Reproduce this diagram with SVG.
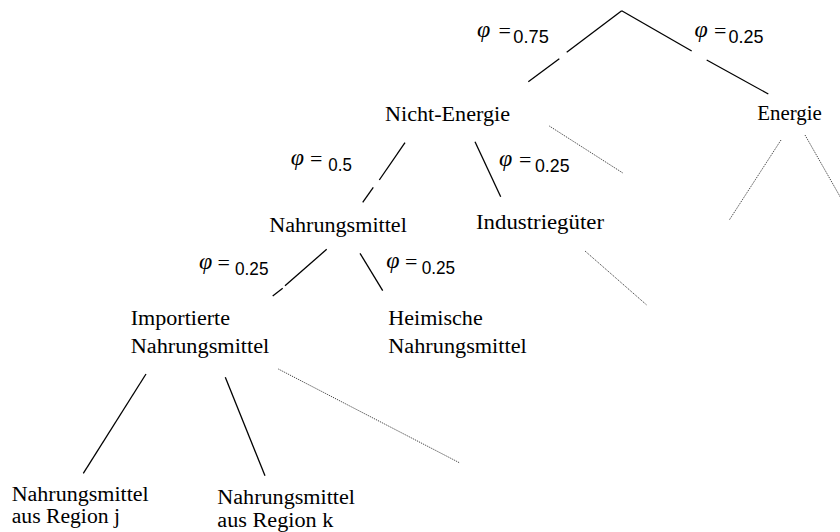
<svg xmlns="http://www.w3.org/2000/svg" width="840" height="532" viewBox="0 0 840 532">
<style>
.bg{fill:#ffffff}
.lbl{font-family:"Liberation Serif","Times New Roman",serif;font-size:20.5px;fill:#000}
.phi{font-family:"Liberation Serif","Times New Roman",serif;font-size:24px;font-style:italic;fill:#000}
.eq{font-family:"Liberation Serif","Times New Roman",serif;font-size:22px;fill:#000}
.num{font-family:"Liberation Sans",Arial,sans-serif;font-size:18px;fill:#000}
.solid{stroke:#000;stroke-width:1.3;fill:none}
.dot{stroke:#444;stroke-width:1;stroke-dasharray:1.2 1;fill:none}
</style>
<rect class="bg" x="0" y="0" width="840" height="532"/>
<g id="connectors">
<line class="solid" x1="621.7" y1="10.7" x2="566.7" y2="52.3"/>
<line class="solid" x1="559.3" y1="58.7" x2="528.3" y2="81.7"/>
<line class="solid" x1="621.7" y1="10.7" x2="691.7" y2="51"/>
<line class="solid" x1="706.7" y1="60" x2="768.3" y2="94"/>
<line class="solid" x1="405" y1="142.7" x2="379.3" y2="180"/>
<line class="solid" x1="373.3" y1="187.3" x2="362.7" y2="202.3"/>
<line class="solid" x1="475" y1="141.7" x2="500.7" y2="196.7"/>
<line class="solid" x1="326.7" y1="249.3" x2="285" y2="285.7"/>
<line class="solid" x1="282.7" y1="288.3" x2="272.7" y2="296"/>
<line class="solid" x1="360" y1="253.3" x2="382.7" y2="290.7"/>
<line class="solid" x1="146" y1="374" x2="83.3" y2="473.3"/>
<line class="solid" x1="225.3" y1="377.3" x2="265" y2="475.7"/>
<line class="dot" x1="549.3" y1="126" x2="623.3" y2="173.3"/>
<line class="dot" x1="781" y1="140" x2="729.3" y2="220"/>
<line class="dot" x1="805" y1="135" x2="842" y2="200"/>
<line class="dot" x1="585" y1="251" x2="646.7" y2="305"/>
<line class="dot" x1="278.3" y1="369" x2="459.3" y2="462.7"/>
</g>
<g id="weights">
<g id="w1"><text class="phi" x="477" y="36.5">φ</text><text class="eq" x="498.5" y="37.5">=</text><text class="num" x="513.3" y="42.7" textLength="35.5" lengthAdjust="spacingAndGlyphs">0.75</text></g>
<g id="w2"><text class="phi" x="694.5" y="37">φ</text><text class="eq" x="714" y="38">=</text><text class="num" x="728.5" y="43.3" textLength="35" lengthAdjust="spacingAndGlyphs">0.25</text></g>
<g id="w3"><text class="phi" x="499" y="165.5">φ</text><text class="eq" x="519" y="166.5">=</text><text class="num" x="535" y="171.5" textLength="34.5" lengthAdjust="spacingAndGlyphs">0.25</text></g>
<g id="w4"><text class="phi" x="290.7" y="164.5">φ</text><text class="eq" x="310" y="165.5">=</text><text class="num" x="328.3" y="170.7" textLength="23.5" lengthAdjust="spacingAndGlyphs">0.5</text></g>
<g id="w5"><text class="phi" x="199" y="268.5">φ</text><text class="eq" x="217.5" y="269.5">=</text><text class="num" x="235" y="275" textLength="33.5" lengthAdjust="spacingAndGlyphs">0.25</text></g>
<g id="w6"><text class="phi" x="386.3" y="268">φ</text><text class="eq" x="405" y="269">=</text><text class="num" x="421.7" y="274.3" textLength="33.5" lengthAdjust="spacingAndGlyphs">0.25</text></g>
</g>
<g id="n-nichtenergie"><text class="lbl" x="385" y="121" textLength="125" lengthAdjust="spacingAndGlyphs">Nicht-Energie</text></g>
<g id="n-energie"><text class="lbl" x="757.3" y="120" textLength="64.5" lengthAdjust="spacingAndGlyphs">Energie</text></g>
<g id="n-nahrungsmittel"><text class="lbl" x="269.3" y="231.7" textLength="137.5" lengthAdjust="spacingAndGlyphs">Nahrungsmittel</text></g>
<g id="n-industrie"><text class="lbl" x="476" y="229.3" textLength="128" lengthAdjust="spacingAndGlyphs">Industriegüter</text></g>
<g id="n-importierte"><text class="lbl" x="130.7" y="325" textLength="99.3" lengthAdjust="spacingAndGlyphs">Importierte</text><text class="lbl" x="130.7" y="352.7" textLength="138.6" lengthAdjust="spacingAndGlyphs">Nahrungsmittel</text></g>
<g id="n-heimische"><text class="lbl" x="388.3" y="325" textLength="94.4" lengthAdjust="spacingAndGlyphs">Heimische</text><text class="lbl" x="388.3" y="352.7" textLength="138.4" lengthAdjust="spacingAndGlyphs">Nahrungsmittel</text></g>
<g id="n-region-j"><text class="lbl" x="11.7" y="500.5" textLength="137" lengthAdjust="spacingAndGlyphs">Nahrungsmittel</text><text class="lbl" x="11.7" y="523.3" textLength="108.3" lengthAdjust="spacingAndGlyphs">aus Region j</text></g>
<g id="n-region-k"><text class="lbl" x="217.3" y="503.8" textLength="137.7" lengthAdjust="spacingAndGlyphs">Nahrungsmittel</text><text class="lbl" x="217.3" y="526.6" textLength="116" lengthAdjust="spacingAndGlyphs">aus Region k</text></g>
</svg>
